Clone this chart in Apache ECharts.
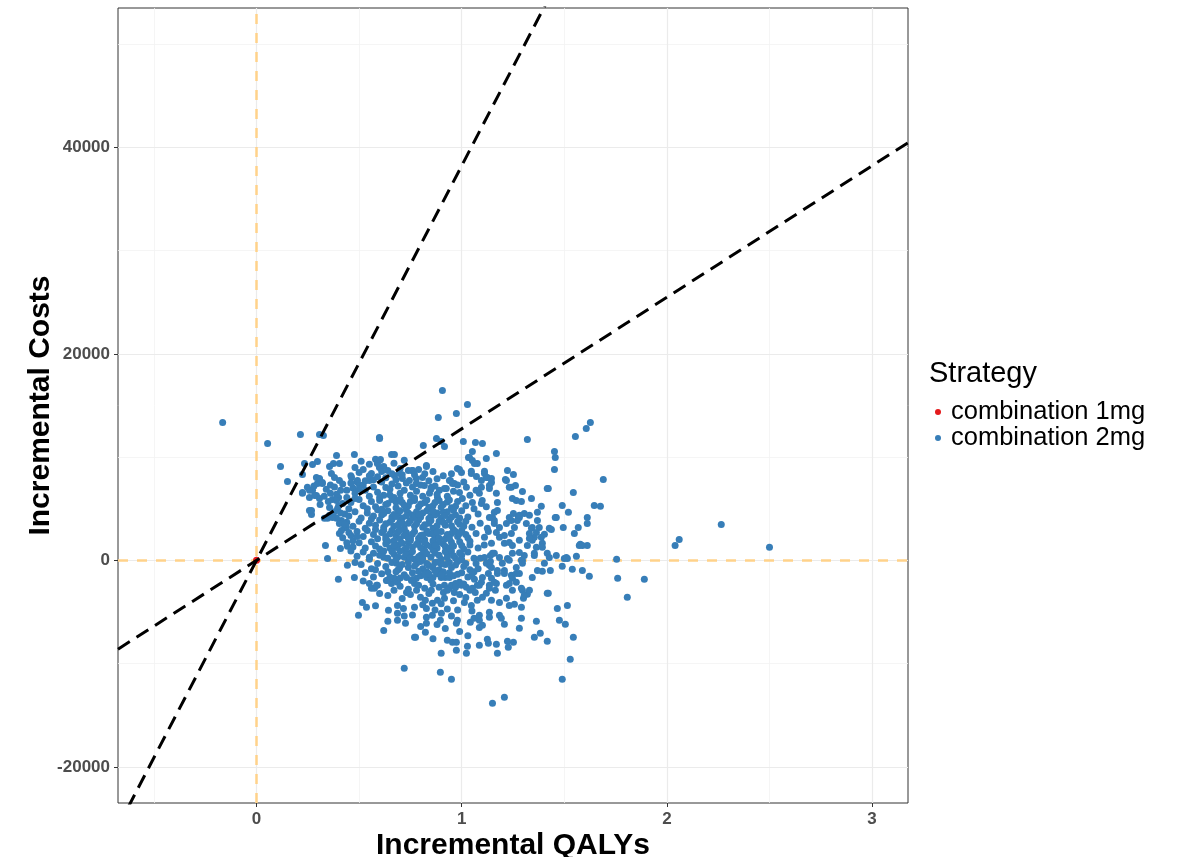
<!DOCTYPE html>
<html>
<head>
<meta charset="utf-8">
<title>Cost-effectiveness plane</title>
<script src="https://cdn.jsdelivr.net/npm/echarts@6/dist/echarts.min.js"></script>
<style>
  html, body { margin: 0; padding: 0; background: #ffffff; }
  #chart { width: 1199px; height: 857px; }
</style>
</head>
<body>
<div id="chart"></div>
<script>
// Axis ranges and tick positions
const qalyRange = [-0.675, 3.175];
const costRange = [-23500, 53500];
const qalyTicks = [0, 1, 2, 3];
const qalyMinorTicks = [-0.5, 0.5, 1.5, 2.5];
const costTicks = [-20000, 0, 20000, 40000];
const costMinorTicks = [-10000, 10000, 30000, 50000];

// Willingness-to-pay thresholds (cost per QALY)
const wtpThresholds = [12741, 38223];

const strategies = ['combination 1mg', 'combination 2mg'];

// Reference strategy sits at the origin
const combo1mgPoints = [[0, 0]];

// combination 2mg: simulations above the dense cloud and to the left
const combo2mgUpper = [
  [-0.165, 13360], [0.054, 11330], [0.214, 12200], [0.307, 12200], [0.326, 12100],
  [0.117, 9100], [0.234, 9390], [0.273, 9290], [0.297, 9580], [0.151, 7650],
  [0.224, 8320], [0.224, 6490], [0.258, 4840], [0.268, 4450], [0.336, 1450],
  [0.390, 10160], [0.404, 9390], [0.356, 9100], [0.307, 7840], [0.297, 7450],
  [0.321, 7550], [0.248, 7070], [0.273, 6780], [0.292, 6290], [0.307, 6000],
  [0.258, 6100], [0.331, 4070], [0.356, 4360], [0.390, 4070], [0.414, 3870],
  [0.429, 3190], [0.404, 2610], [0.356, 5130], [0.395, 5030], [0.599, 11910],
  [0.477, 10260], [0.375, 9390], [0.599, 9680], [0.599, 9000], [0.658, 10260],
  [0.672, 10260], [0.292, 8030], [0.307, 7940], [0.321, 7450], [0.365, 8420],
  [0.380, 8030], [0.404, 7740], [0.224, 6580], [0.258, 6780], [0.283, 6290],
  [0.268, 4840], [0.346, 4070], [0.370, 4160], [0.404, 3580], [0.438, 3190],
  [0.414, 2900], [0.409, 1160], [0.443, 1360], [0.346, 190], [0.443, -480],
  [0.399, -1840], [0.477, -1650], [0.28, 7200], [0.34, 6900], [0.36, 7300],
  [0.33, 6200], [0.35, 5700], [0.31, 5400], [0.37, 5900], [0.39, 6400],
  [0.41, 6800], [0.42, 5500], [0.44, 6100], [0.38, 4700], [0.43, 4500],
  [0.40, 5300], [0.45, 5000], [0.47, 7000], [0.46, 8200], [0.49, 7600],
  [0.50, 8500], [0.52, 8800], [0.48, 9000], [0.51, 9600], [0.55, 9300],
  [0.58, 9800], [0.62, 9100], [0.64, 8700], [0.67, 9400], [0.70, 8900],
  [0.72, 9700], [0.906, 16450], [1.028, 15100], [0.886, 13840], [0.974, 14230],
  [0.600, 11810], [0.813, 11130], [0.877, 11810], [0.900, 11520], [0.916, 11040],
  [1.008, 11520], [1.067, 11420], [1.101, 11330], [1.052, 10550], [1.033, 9970],
  [1.052, 9680], [1.076, 9390], [0.828, 9200], [0.589, 9390], [0.604, 9780],
  [0.979, 8910], [0.999, 8520], [1.047, 8620], [1.072, 8130], [1.096, 7740],
  [0.463, 8030], [0.492, 7740], [0.502, 7260], [0.560, 8420], [0.550, 7740],
  [0.672, 8230], [0.697, 8420], [0.711, 7940], [0.760, 8710], [0.745, 7740],
  [0.779, 7450], [0.809, 8030], [0.818, 7260], [0.852, 7070], [0.891, 6780],
  [0.916, 6970], [0.945, 7740], [0.964, 7450], [0.828, 9100], [0.989, 8810],
  [1.047, 8420], [1.062, 9390], [1.038, 9970], [0.94, 7740], [0.955, 7450],
  [0.925, 6970], [0.882, 6100], [0.843, 6490], [0.779, 7940], [0.76, 8710]
];

// combination 2mg: simulations to the right of the cloud
const combo2mgRight = [
  [1.320, 11710], [1.627, 13360], [1.607, 12780], [1.554, 12000], [1.452, 10550],
  [1.456, 9970], [1.452, 8810], [1.169, 10360], [1.120, 9870], [1.111, 8620],
  [1.125, 8030], [1.145, 7940], [1.223, 8710], [1.252, 8320], [1.213, 7840],
  [1.690, 7840], [1.422, 6970], [1.544, 6580], [1.242, 7070], [1.262, 7260],
  [1.296, 6680], [1.096, 7070], [1.135, 7260], [1.169, 6490], [1.247, 6000],
  [1.266, 5810], [1.291, 5710], [1.340, 6000], [1.388, 5230], [1.369, 4650],
  [1.330, 4360], [1.305, 4550], [1.276, 4260], [1.490, 5320], [1.520, 4650],
  [1.646, 5320], [1.676, 5230], [1.456, 4160], [1.495, 3190], [1.437, 3000],
  [1.612, 4160], [1.612, 3580], [1.568, 3190], [1.549, 2610], [1.578, 1550],
  [1.612, 1450], [1.403, 2520], [1.427, 3100], [1.393, 1650], [1.354, 2230],
  [1.218, 3580], [1.242, 3870], [1.257, 3190], [1.281, 4160], [1.150, 4160],
  [1.159, 3580], [1.125, 3100], [1.169, 2710], [1.111, 2230], [1.184, 2230],
  [1.208, 1650], [1.145, 1650], [1.315, 3580], [1.344, 3190], [1.330, 2610],
  [1.369, 3870], [1.378, 3190], [1.344, 1940], [1.320, 1450], [1.364, 1260],
  [1.247, 1450], [1.281, 1940], [1.111, 8420], [1.120, 8030], [1.145, 7550],
  [1.135, 6970], [1.218, 7740], [1.232, 7070], [1.417, 6970], [1.461, 4160],
  [1.174, 5610], [1.086, 6490], [1.096, 5520], [1.052, 5610], [1.023, 7070],
  [0.989, 6580], [1.003, 6000], [1.159, 4650], [1.174, 4840], [1.159, 3870],
  [1.135, 4160], [1.232, 4160], [1.252, 4550], [1.271, 3870], [1.281, 4360],
  [1.184, 3190], [1.208, 2420], [1.242, 2610], [1.232, 1740], [1.340, 3100],
  [1.364, 2710], [1.388, 2230], [1.330, 2130], [1.393, 1260], [2.040, 1450],
  [2.060, 2030], [2.265, 3480], [2.500, 1260], [1.807, -3580], [1.890, -1840]
];

// combination 2mg: simulations below zero incremental cost
const combo2mgLower = [
  [1.150, 680], [1.140, 480], [1.184, 290], [1.247, 680], [1.223, 190],
  [1.296, 0], [1.354, 480], [1.417, 680], [1.573, 1450], [1.588, 1450],
  [1.490, -580], [1.515, 190], [1.559, 390], [1.539, -870], [1.588, -970],
  [1.622, -1550], [1.755, 100], [1.760, -1740], [1.344, -1650], [1.393, -1060],
  [1.432, -970], [1.135, -480], [1.174, -1260], [1.208, -970], [1.242, -1450],
  [1.281, -1260], [1.247, -1740], [1.096, -2130], [1.135, -2420], [1.169, -2230],
  [1.218, -2420], [1.247, -2900], [1.296, -2900], [1.320, -3290], [1.301, -3680],
  [1.422, -3190], [1.101, -3580], [1.145, -3870], [1.184, -4070], [1.218, -3680],
  [1.232, -4360], [1.257, -4260], [1.291, -4550], [1.466, -4650], [1.515, -4360],
  [1.476, -5810], [1.505, -6190], [1.544, -7450], [1.529, -9580], [1.490, -11520],
  [1.417, -7840], [1.383, -7070], [1.354, -7450], [1.364, -5900], [1.291, -5610],
  [1.281, -6580], [1.184, -5320], [1.193, -5610], [1.135, -5030], [1.135, -5520],
  [1.208, -6190], [1.086, -6490], [1.101, -6290], [1.125, -7650], [1.130, -8030],
  [1.086, -8230], [1.169, -8130], [1.223, -7840], [1.252, -7940], [1.227, -8420],
  [1.174, -9000], [1.208, -13260], [1.150, -13840], [0.550, -2230], [0.575, -2710],
  [0.589, -2420], [0.633, -1940], [0.658, -2230], [0.672, -1740], [0.682, -290],
  [0.697, -770], [0.731, -3100], [0.770, -2230], [0.560, -2710], [0.585, -2420],
  [0.638, -1940], [0.687, -2130], [0.731, -1650], [0.755, -1940], [0.779, -1740],
  [0.516, -4070], [0.536, -4550], [0.497, -5320], [0.643, -4840], [0.687, -4360],
  [0.716, -4650], [0.687, -5130], [0.687, -5810], [0.726, -6100], [0.736, -3100],
  [0.770, -4550], [0.799, -3580], [0.823, -3870], [0.828, -4650], [0.857, -4160],
  [0.852, -2900], [0.882, -3870], [0.828, -5520], [0.857, -5320], [0.828, -6100],
  [0.823, -6970], [0.770, -7450], [0.775, -7450], [0.901, -5130], [0.896, -5810],
  [0.911, -3100], [0.916, -2420], [0.720, -10450], [0.896, -10840], [0.950, -11520],
  [0.900, -9000], [0.930, -7740], [0.955, -7940], [0.974, -7940], [0.974, -8710],
  [1.023, -9000], [1.028, -8320], [0.979, -5810], [0.974, -6100], [1.042, -6000],
  [1.086, -5320], [1.086, -5810], [1.013, -4070], [1.047, -4360], [1.076, -3870],
  [0.916, -3680], [0.940, -2710], [0.964, -3100], [0.989, -2130], [1.023, -2610],
  [1.052, -2710], [1.076, -2420], [1.427, 290], [1.461, 480], [1.500, 190],
  [1.510, 290], [1.354, 680], [1.403, -290], [1.369, -970], [1.417, -3190],
  [1.281, 770], [1.305, 480], [1.291, 0], [1.296, -290], [1.266, -680],
  [1.159, 680], [1.198, -290], [1.232, 0], [1.145, -680], [1.174, -970],
  [1.208, -1260], [1.232, -2230], [1.266, -2130], [1.291, -2710], [1.305, -3390],
  [1.330, -2900], [1.266, -1260], [1.111, 290], [1.120, -290], [1.130, -1260],
  [1.101, -1650], [1.145, -1740], [1.062, -1840], [1.086, -2420], [1.066, -3100],
  [1.120, -3190], [1.135, -2710], [1.159, -2130], [1.164, -2900], [0.999, -2420],
  [0.950, -2420], [0.970, -2230], [0.920, -1650], [0.940, -1650], [0.900, -1650],
  [0.860, -1650], [0.830, -1650]
];

// combination 2mg: the dense centre of the cloud
const combo2mgCore = [
  [0.52, 7300], [0.57, 7100], [0.61, 7600], [0.63, 7050], [0.66, 7400], [0.69, 7200],
  [0.73, 7500], [0.76, 7100], [0.80, 7300], [0.84, 7700], [0.87, 7200], [0.98, 7300],
  [1.01, 7600], [0.48, 6500], [0.53, 6800], [0.55, 6200], [0.59, 6600], [0.62, 6300],
  [0.65, 6900], [0.67, 6100], [0.70, 6500], [0.72, 6800], [0.75, 6300], [0.78, 6700],
  [0.81, 6200], [0.85, 6900], [0.88, 6400], [0.93, 6200], [0.96, 6700], [1.04, 6300],
  [1.07, 6800], [0.46, 5600], [0.50, 5900], [0.52, 5300], [0.56, 5700], [0.58, 5200],
  [0.60, 5800], [0.63, 5400], [0.66, 5900], [0.68, 5100], [0.71, 5600], [0.74, 5300],
  [0.77, 5800], [0.79, 5200], [0.82, 5600], [0.86, 5300], [0.89, 5800], [0.91, 5400],
  [0.95, 5100], [0.98, 5700], [1.02, 5300], [1.06, 5000], [1.10, 5800], [0.45, 4300],
  [0.48, 4700], [0.51, 4100], [0.54, 4600], [0.57, 4300], [0.59, 4900], [0.61, 4400],
  [0.64, 4800], [0.66, 4200], [0.69, 4600], [0.71, 4100], [0.73, 4900], [0.76, 4400],
  [0.78, 4700], [0.80, 4200], [0.83, 4800], [0.85, 4300], [0.88, 4600], [0.90, 4100],
  [0.93, 4700], [0.97, 4400], [1.00, 4800], [1.03, 4200], [1.08, 4500], [0.44, 3700],
  [0.47, 3300], [0.50, 3800], [0.53, 3100], [0.55, 3600], [0.58, 3400], [0.60, 3900],
  [0.62, 3200], [0.65, 3700], [0.67, 3300], [0.70, 3800], [0.72, 3100], [0.74, 3600],
  [0.77, 3300], [0.79, 3900], [0.81, 3200], [0.84, 3600], [0.86, 3100], [0.89, 3800],
  [0.92, 3400], [0.94, 3900], [0.96, 3000], [0.99, 3500], [1.02, 3800], [1.05, 3200],
  [1.09, 3600], [0.46, 2400], [0.49, 2800], [0.52, 2300], [0.54, 2900], [0.57, 2500],
  [0.59, 2100], [0.61, 2700], [0.63, 2300], [0.66, 2900], [0.68, 2400], [0.70, 2100],
  [0.73, 2700], [0.75, 2200], [0.77, 2800], [0.80, 2400], [0.82, 2000], [0.84, 2600],
  [0.87, 2300], [0.90, 2800], [0.92, 2100], [0.95, 2600], [0.98, 2300], [1.00, 2900],
  [1.03, 2200], [1.07, 2600], [0.47, 1300], [0.50, 1700], [0.53, 1200], [0.56, 1800],
  [0.58, 1400], [0.60, 1100], [0.63, 1600], [0.65, 1200], [0.67, 1900], [0.69, 1500],
  [0.72, 1000], [0.74, 1700], [0.76, 1300], [0.79, 1800], [0.81, 1100], [0.83, 1500],
  [0.86, 1900], [0.88, 1200], [0.91, 1600], [0.93, 1000], [0.96, 1400], [0.99, 1800],
  [1.01, 1100], [1.04, 1500], [1.08, 1200], [0.49, 400], [0.52, 800], [0.55, 300],
  [0.57, 700], [0.60, 500], [0.62, 900], [0.64, 200], [0.67, 600], [0.70, 900],
  [0.72, 300], [0.75, 700], [0.77, 100], [0.80, 500], [0.82, 900], [0.85, 300],
  [0.87, 700], [0.90, 100], [0.93, 600], [0.95, 900], [0.97, 200], [1.00, 500],
  [1.03, 800], [1.06, 200], [0.51, -400], [0.56, -800], [0.59, -300], [0.63, -600],
  [0.66, -200], [0.69, -900], [0.71, -400], [0.74, -700], [0.78, -300], [0.81, -800],
  [0.84, -500], [0.87, -200], [0.89, -900], [0.92, -400], [0.95, -700], [0.98, -100],
  [1.01, -600], [1.04, -900], [1.07, -300], [0.61, -1300], [0.65, -1600], [0.68, -1100],
  [0.72, -1400], [0.76, -1200], [0.80, -1500], [0.83, -1100], [0.85, -1900], [0.88, -1300],
  [0.91, -1100], [0.96, -1500], [1.00, -1200], [1.03, -1600], [1.06, -1100], [0.70, -2500],
  [0.74, -2800], [0.79, -2400], [0.82, -2700], [0.86, -2300], [0.89, -2600], [0.93, -2900],
  [0.97, -2600], [1.01, -2300], [1.04, -2900]
];

// combination 2mg: additional simulations filling the centre
const combo2mgCentre = [
  [0.64, 5500], [0.68, 5650], [0.72, 5350], [0.75, 5700], [0.80, 5450], [0.84, 5150],
  [0.87, 5600], [0.93, 5650], [0.97, 5250], [0.62, 4550], [0.67, 4450], [0.70, 4800],
  [0.74, 4600], [0.77, 4150], [0.81, 4600], [0.84, 4050], [0.87, 4400], [0.91, 4650],
  [0.95, 4200], [0.99, 4100], [0.63, 3550], [0.66, 3950], [0.69, 3450], [0.71, 3600],
  [0.75, 3850], [0.78, 3550], [0.82, 3450], [0.85, 3850], [0.88, 3350], [0.91, 3700],
  [0.95, 3350], [0.98, 3750], [1.01, 3300], [0.62, 2950], [0.65, 2550], [0.69, 2750],
  [0.72, 2400], [0.76, 2550], [0.79, 2150], [0.83, 2850], [0.86, 2550], [0.89, 2150],
  [0.93, 2500], [0.97, 2800], [1.02, 2500], [0.64, 1850], [0.68, 1250], [0.71, 1650],
  [0.75, 1950], [0.78, 1550], [0.82, 1750], [0.85, 1350], [0.89, 1750], [0.92, 1350],
  [0.95, 1750], [1.00, 1450], [1.04, 1850], [0.66, 850], [0.69, 350], [0.73, 650],
  [0.76, 850], [0.79, 350], [0.83, 650], [0.86, 1000], [0.89, 500], [0.92, 850],
  [0.96, 450], [0.99, 750], [0.74, -150], [0.77, -550], [0.80, -100], [0.83, -300],
  [0.86, -700], [0.90, -350], [0.94, -200], [0.97, -450], [1.02, -300], [0.79, -1050],
  [0.82, -1350], [0.87, -1000], [0.90, -1450], [0.94, -1200], [0.98, -1350], [1.05, -1400],
  [0.58, 3000], [0.56, 4000], [0.60, 6100], [0.54, 5000], [0.65, 6350], [0.70, 5950],
  [0.77, 6050], [0.83, 5850], [0.90, 5150], [0.94, 5850]
];

// combination 2mg: further simulations around the edges of the cloud
const combo2mgFringe = [
  [0.36, 6500], [0.38, 7100], [0.40, 6100], [0.42, 7400], [0.44, 6800], [0.46, 7500],
  [0.48, 6000], [0.50, 6900], [0.53, 7700], [0.55, 8200], [0.57, 7800], [0.59, 8100],
  [0.61, 8600], [0.63, 8000], [0.66, 8400], [0.68, 7800], [0.71, 8300], [0.74, 8700],
  [0.77, 8300], [0.79, 8800], [0.82, 8400], [0.86, 8600], [0.88, 7900], [0.91, 8200],
  [0.95, 8400], [0.39, 5800], [0.41, 4600], [0.43, 3500], [0.45, 2700], [0.47, 1900],
  [0.49, 2300], [0.44, 1700], [0.42, 2200], [0.46, 900], [0.48, -200], [0.53, -1200],
  [0.57, -1600], [0.55, 100], [0.52, -2000], [0.60, -3200], [0.64, -3400], [0.67, -2900],
  [0.71, -3700], [0.75, -3300], [0.78, -2900], [0.81, -4300], [0.84, -3200], [0.87, -4800],
  [0.90, -4200], [0.93, -4700], [0.96, -3900], [0.99, -3300], [1.02, -3600], [1.05, -4900],
  [0.98, -4800], [0.95, -5400], [0.88, -6200], [0.92, -6600], [0.99, -6900], [1.03, -7300],
  [1.06, -5600], [0.86, -7600], [0.76, -5300], [0.80, -6400], [0.72, -5400], [0.64, -5900],
  [0.58, -4400], [0.62, -6800], [0.61, 4950], [0.68, 4250], [0.73, 4300], [0.79, 4450],
  [0.86, 4750], [0.92, 4350], [0.96, 4850], [0.63, 2050], [0.70, 2950], [0.74, 2150],
  [0.81, 2450], [0.88, 2750], [0.94, 2150], [0.99, 2600], [0.67, 1450], [0.73, 1200],
  [0.80, 1250], [0.87, 1450], [0.94, 1200], [0.68, 100], [0.75, 250], [0.81, 150],
  [0.88, -150], [0.93, 250], [1.00, 50], [0.62, 300], [0.58, -900], [0.64, -1100],
  [0.70, -1700], [0.76, -1850], [0.84, -1300], [1.09, 200], [1.11, 1500], [1.13, 2800],
  [1.12, 5200], [1.14, -100], [1.08, -800]
];

const combo2mgPoints = [].concat(combo2mgUpper, combo2mgRight, combo2mgLower,
  combo2mgCore, combo2mgCentre, combo2mgFringe);

const COLOR_1MG = '#E41A1C';
const COLOR_2MG = '#377EB8';
const FONT = "'Liberation Sans', Arial, sans-serif";

// Threshold lines run across the whole panel; the grid clips them
const thresholdSeries = wtpThresholds.map(function (wtp) {
  return {
    type: 'line',
    name: 'WTP ' + wtp,
    data: [[qalyRange[0], qalyRange[0] * wtp], [qalyRange[1], qalyRange[1] * wtp]],
    showSymbol: false,
    symbol: 'none',
    clip: true,
    silent: true,
    z: 5,
    lineStyle: { color: '#000000', width: 3, type: [14, 8], cap: 'butt' }
  };
});

const chart = echarts.init(document.getElementById('chart'), null, { renderer: 'canvas' });

const axisLabelStyle = {
  color: '#4D4D4D', fontSize: 17, fontWeight: 'bold', fontFamily: FONT
};

chart.setOption({
  animation: false,
  backgroundColor: '#ffffff',
  title: {
    text: 'Strategy',
    left: 929,
    top: 359,
    padding: 0,
    textStyle: { color: '#000000', fontSize: 29, fontWeight: 'normal', fontFamily: FONT }
  },
  legend: {
    data: strategies.map(function (s) { return { name: s, icon: 'circle' }; }),
    orient: 'vertical',
    left: 935,
    top: 399,
    padding: 0,
    itemWidth: 16,
    itemHeight: 6,
    itemGap: 0,
    selectedMode: false,
    textStyle: { color: '#000000', fontSize: 25.5, lineHeight: 23, fontFamily: FONT }
  },
  grid: {
    left: 118, top: 8, right: 291, bottom: 54,
    show: true, borderColor: '#333333', borderWidth: 1, backgroundColor: 'transparent',
    containLabel: false,
    outerBoundsMode: 'none'
  },
  xAxis: [
    {
      type: 'value',
      min: qalyRange[0], max: qalyRange[1],
      name: 'Incremental QALYs',
      nameLocation: 'middle',
      nameGap: 28,
      nameMoveOverlap: false,
      nameTextStyle: { color: '#000000', fontSize: 30, fontWeight: 'bold', fontFamily: FONT },
      axisLine: { show: false, onZero: false },
      axisTick: { show: true, length: 4, customValues: qalyTicks, lineStyle: { color: '#333333', width: 1 } },
      axisLabel: Object.assign({ customValues: qalyTicks, margin: 8, formatter: function (v) { return String(v); } }, axisLabelStyle),
      splitLine: { show: true, lineStyle: { color: '#EBEBEB', width: 1.2 } },
      z: 1
    },
    {
      type: 'value',
      min: qalyRange[0], max: qalyRange[1],
      position: 'bottom',
      axisLine: { show: false, onZero: false },
      axisTick: { show: false, customValues: qalyMinorTicks },
      axisLabel: { show: false, customValues: qalyMinorTicks },
      splitLine: { show: true, lineStyle: { color: '#F2F2F2', width: 0.8 } },
      z: 0
    }
  ],
  yAxis: [
    {
      type: 'value',
      min: costRange[0], max: costRange[1],
      name: 'Incremental Costs',
      nameLocation: 'middle',
      nameGap: 62,
      nameRotate: 90,
      nameMoveOverlap: false,
      nameTextStyle: { color: '#000000', fontSize: 30, fontWeight: 'bold', fontFamily: FONT },
      axisLine: { show: false, onZero: false },
      axisTick: { show: true, length: 4, customValues: costTicks, lineStyle: { color: '#333333', width: 1 } },
      axisLabel: Object.assign({ customValues: costTicks, margin: 8, formatter: function (v) { return String(v); } }, axisLabelStyle),
      splitLine: { show: true, lineStyle: { color: '#EBEBEB', width: 1.2 } },
      z: 1
    },
    {
      type: 'value',
      min: costRange[0], max: costRange[1],
      position: 'left',
      axisLine: { show: false, onZero: false },
      axisTick: { show: false, customValues: costMinorTicks },
      axisLabel: { show: false, customValues: costMinorTicks },
      splitLine: { show: true, lineStyle: { color: '#F2F2F2', width: 0.8 } },
      z: 0
    }
  ],
  series: [
    {
      type: 'scatter',
      name: 'combination 2mg',
      data: combo2mgPoints,
      symbol: 'circle',
      symbolSize: 7,
      itemStyle: { color: COLOR_2MG, opacity: 1 },
      z: 3,
      markLine: {
        silent: true,
        symbol: 'none',
        label: { show: false },
        lineStyle: { color: '#FFD28A', width: 2.5, type: [10, 9] },
        z: 2,
        data: [{ xAxis: 0 }, { yAxis: 0 }]
      }
    },
    {
      type: 'scatter',
      name: 'combination 1mg',
      data: combo1mgPoints,
      symbol: 'circle',
      symbolSize: 7,
      itemStyle: { color: COLOR_1MG, opacity: 1 },
      z: 4
    }
  ].concat(thresholdSeries)
});
</script>
</body>
</html>
